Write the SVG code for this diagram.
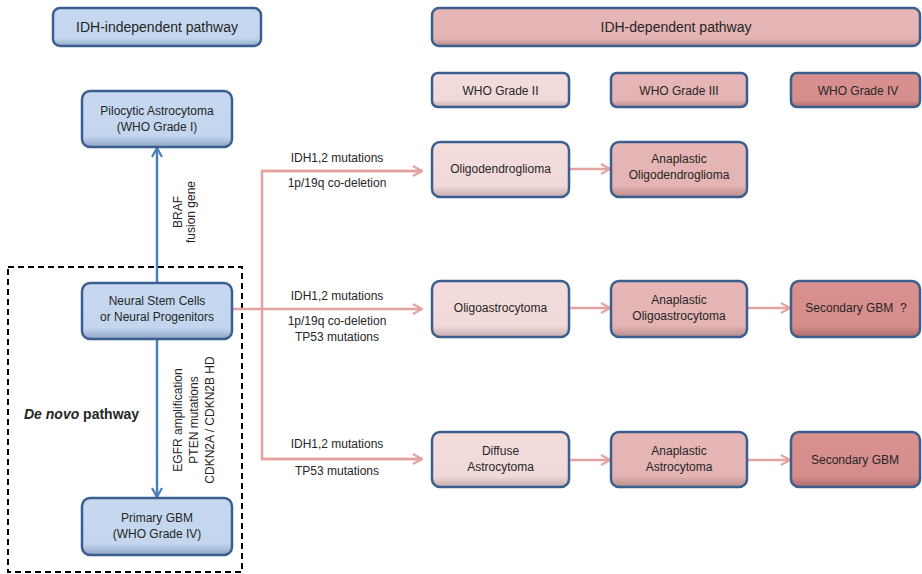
<svg xmlns="http://www.w3.org/2000/svg" width="922" height="574" viewBox="0 0 922 574">
<style>
text{font-family:"Liberation Sans",Arial,sans-serif;fill:#262626;}
.t12{font-size:12px;text-anchor:middle;}
.t14{font-size:14px;text-anchor:middle;}
.lbl{font-size:12px;text-anchor:middle;}
.box{stroke:#3a5f8e;stroke-width:2.5;}
.blue{fill:url(#gBlue);}
.p1{fill:url(#gP1);}
.p2{fill:url(#gP2);}
.p3{fill:url(#gP3);}
.pl{stroke:#e3a3a1;stroke-width:2.5;fill:none;}
.bl{stroke:#4a7ebb;stroke-width:2.5;fill:none;}
</style>
<defs>
<linearGradient id="gBlue" x1="0" y1="0" x2="0" y2="1"><stop offset="0" stop-color="#c6d9f1"/><stop offset="0.8" stop-color="#c3d6ee"/><stop offset="1" stop-color="#8ea6c6"/></linearGradient>
<linearGradient id="gP1" x1="0" y1="0" x2="0" y2="1"><stop offset="0" stop-color="#f3dcdc"/><stop offset="0.8" stop-color="#f1d9d9"/><stop offset="1" stop-color="#c8aeae"/></linearGradient>
<linearGradient id="gP2" x1="0" y1="0" x2="0" y2="1"><stop offset="0" stop-color="#e7b6b6"/><stop offset="0.8" stop-color="#e4b3b3"/><stop offset="1" stop-color="#b98d8d"/></linearGradient>
<linearGradient id="gP3" x1="0" y1="0" x2="0" y2="1"><stop offset="0" stop-color="#d99190"/><stop offset="0.8" stop-color="#d68e8d"/><stop offset="1" stop-color="#ad6d6c"/></linearGradient>
<marker id="ap" viewBox="0 0 12 12" refX="11" refY="6" markerWidth="12" markerHeight="12" markerUnits="userSpaceOnUse" orient="auto"><path d="M2,1 L11,6 L2,11" fill="none" stroke="#e3a3a1" stroke-width="2.2"/></marker>
<marker id="ab" viewBox="0 0 12 12" refX="11" refY="6" markerWidth="12" markerHeight="12" markerUnits="userSpaceOnUse" orient="auto"><path d="M2,1 L11,6 L2,11" fill="none" stroke="#4a7ebb" stroke-width="2.2"/></marker>
</defs>
<rect width="922" height="574" fill="#ffffff"/>

<rect id="denovo-frame" x="8" y="267" width="234" height="305" fill="none" stroke="#000" stroke-width="2" stroke-dasharray="6,4"/>
<text x="24" y="419" style="font-size:14px;font-weight:bold;"><tspan font-style="italic">De novo</tspan> pathway</text>

<g id="connectors">
<line class="bl" x1="157" y1="283" x2="157" y2="148" marker-end="url(#ab)"/>
<line class="bl" x1="157" y1="339" x2="157" y2="497" marker-end="url(#ab)"/>
<line class="pl" x1="232" y1="309" x2="422" y2="309" marker-end="url(#ap)"/>
<polyline class="pl" points="422,171 262,171 262,459 422,459"/>
<line class="pl" x1="262" y1="171" x2="422" y2="171" marker-end="url(#ap)"/>
<line class="pl" x1="262" y1="459" x2="422" y2="459" marker-end="url(#ap)"/>
<line class="pl" x1="569" y1="169" x2="610" y2="169" marker-end="url(#ap)"/>
<line class="pl" x1="569" y1="308" x2="610" y2="308" marker-end="url(#ap)"/>
<line class="pl" x1="747" y1="308" x2="790" y2="308" marker-end="url(#ap)"/>
<line class="pl" x1="569" y1="460" x2="610" y2="460" marker-end="url(#ap)"/>
<line class="pl" x1="747" y1="460" x2="790" y2="460" marker-end="url(#ap)"/>
<text class="lbl" x="337" y="162">IDH1,2 mutations</text>
<text class="lbl" x="337" y="187">1p/19q co-deletion</text>
<text class="lbl" x="337" y="300">IDH1,2 mutations</text>
<text class="lbl" x="337" y="325">1p/19q co-deletion</text>
<text class="lbl" x="337" y="341">TP53 mutations</text>
<text class="lbl" x="337" y="448">IDH1,2 mutations</text>
<text class="lbl" x="337" y="475">TP53 mutations</text>
<text class="lbl" transform="translate(182,212) rotate(-90)">BRAF</text>
<text class="lbl" transform="translate(195,212) rotate(-90)">fusion gene</text>
<text class="lbl" transform="translate(182,420) rotate(-90)">EGFR amplification</text>
<text class="lbl" transform="translate(198,420) rotate(-90)">PTEN mutations</text>
<text class="lbl" transform="translate(214,420) rotate(-90)">CDKN2A / CDKN2B HD</text>
</g>

<g id="hdr-indep"><rect class="box blue" x="53" y="8" width="208" height="38" rx="7"/><text class="t14" x="157" y="32">IDH-independent pathway</text></g>
<g id="hdr-dep"><rect class="box p2" x="432" y="8" width="488" height="38" rx="7"/><text class="t14" x="676" y="32">IDH-dependent pathway</text></g>

<g id="grade2"><rect class="box p1" x="432" y="73" width="137" height="34" rx="6"/><text class="t12" x="500.5" y="95">WHO Grade II</text></g>
<g id="grade3"><rect class="box p2" x="611" y="73" width="136" height="34" rx="6"/><text class="t12" x="679" y="95">WHO Grade III</text></g>
<g id="grade4"><rect class="box p3" x="791" y="73" width="129" height="34" rx="6"/><text class="t12" x="858" y="95">WHO Grade IV</text></g>

<g id="pilocytic"><rect class="box blue" x="82" y="91" width="150" height="56" rx="8"/><text class="t12" x="157" y="115">Pilocytic Astrocytoma</text><text class="t12" x="157" y="131">(WHO Grade I)</text></g>
<g id="nsc"><rect class="box blue" x="82" y="283" width="150" height="56" rx="8"/><text class="t12" x="157" y="305">Neural Stem Cells</text><text class="t12" x="157" y="321">or Neural Progenitors</text></g>
<g id="primary-gbm"><rect class="box blue" x="82" y="498" width="150" height="57" rx="8"/><text class="t12" x="157" y="522">Primary GBM</text><text class="t12" x="157" y="538">(WHO Grade IV)</text></g>

<g id="oligodendroglioma"><rect class="box p1" x="432" y="142" width="137" height="55" rx="8"/><text class="t12" x="500.5" y="173">Oligodendroglioma</text></g>
<g id="ana-oligodendroglioma"><rect class="box p2" x="611" y="142" width="136" height="55" rx="8"/><text class="t12" x="679" y="163">Anaplastic</text><text class="t12" x="679" y="179">Oligodendroglioma</text></g>

<g id="oligoastrocytoma"><rect class="box p1" x="432" y="281" width="137" height="56" rx="8"/><text class="t12" x="500.5" y="312">Oligoastrocytoma</text></g>
<g id="ana-oligoastrocytoma"><rect class="box p2" x="611" y="281" width="136" height="56" rx="8"/><text class="t12" x="679" y="304">Anaplastic</text><text class="t12" x="679" y="320">Oligoastrocytoma</text></g>
<g id="sec-gbm-q"><rect class="box p3" x="791" y="281" width="129" height="56" rx="8"/><text class="t12" x="856" y="312">Secondary GBM&#160; ?</text></g>

<g id="diffuse"><rect class="box p1" x="432" y="432" width="137" height="55" rx="8"/><text class="t12" x="500.5" y="455">Diffuse</text><text class="t12" x="500.5" y="471">Astrocytoma</text></g>
<g id="ana-astro"><rect class="box p2" x="611" y="432" width="136" height="55" rx="8"/><text class="t12" x="679" y="455">Anaplastic</text><text class="t12" x="679" y="471">Astrocytoma</text></g>
<g id="sec-gbm"><rect class="box p3" x="791" y="432" width="129" height="55" rx="8"/><text class="t12" x="855" y="464">Secondary GBM</text></g>
</svg>
